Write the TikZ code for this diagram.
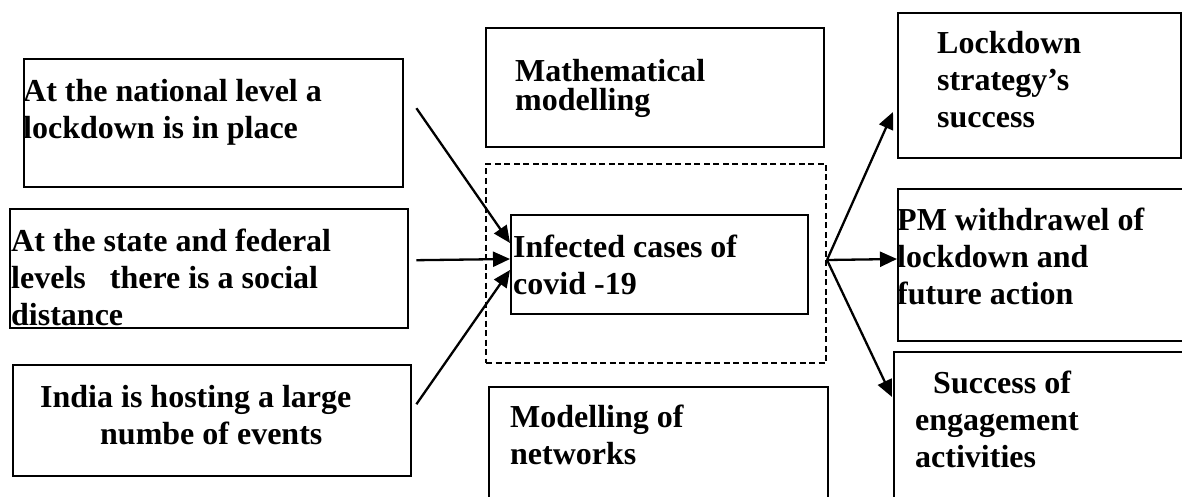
\documentclass[tikz,border=0pt]{standalone}
\usepackage{fontspec}
\setmainfont{Liberation Serif}
\usetikzlibrary{arrows.meta}
\tikzset{
  box/.style={draw, line width=2.4pt, inner sep=0pt, anchor=north west},
  dbox/.style={box, dash pattern=on 6pt off 3.5pt, line width=2pt},
  txt/.style={anchor=base west, inner sep=0pt, font=\fontsize{32}{37}\selectfont\bfseries},
  tighttxt/.style={txt, font=\fontsize{32}{28.5}\selectfont\bfseries},
  arr/.style={line width=2.3pt, -{Triangle[length=17pt,width=15pt]}},
}
\newcommand\mylines[1]{\parbox[t]{330pt}{\raggedright #1}}
\begin{document}
\begin{tikzpicture}[x=1pt,y=-1pt]
\useasboundingbox (0,0) rectangle (1182,497);
\clip (0,0) rectangle (1182,497);
% boxes
\node[box, minimum width=379pt, minimum height=128pt] (b1) at (23,58) {};
\node[box, minimum width=398pt, minimum height=119pt] (b2) at (9,208) {};
\node[box, minimum width=398pt, minimum height=111pt] (b3) at (12,364) {};
\node[box, minimum width=338pt, minimum height=119pt] (math) at (485,27) {};
\node[dbox, minimum width=340pt, minimum height=199pt] (dash) at (485,163) {};
\node[box, minimum width=297pt, minimum height=99pt] (inf) at (510,214) {};
\node[box, minimum width=339pt, minimum height=150pt] (net) at (488,386) {};
\node[box, minimum width=283pt, minimum height=145pt] (lock) at (897,12) {};
\node[box, minimum width=330pt, minimum height=152pt] (pm) at (897,188) {};
\node[box, minimum width=330pt, minimum height=170pt] (succ) at (893,351) {};
% texts
\node[txt] (t1) at (23,102) {\mylines{At the national level a\\lockdown is in place}};
\node[txt] (t2) at (11,251) {\mylines{At the state and federal\\levels\ \ \ there is a social\\distance}};
\node[txt] (t3) at (40,407) {\mylines{India is hosting a large\\\hspace*{60pt}numbe of events}};
\node[tighttxt] (tm) at (515,82) {\mylines{Mathematical\\modelling}};
\node[txt] (ti) at (513,257) {\mylines{Infected cases of\\covid -19}};
\node[txt] (tn) at (510,427) {\mylines{Modelling of\\networks}};
\node[txt] (tl) at (937,54) {\mylines{Lockdown\\strategy's\\success}};
\node[txt] (tp) at (897,230) {\mylines{PM withdrawel of\\lockdown and\\future action}};
\node[txt] (ts) at (915,393) {\mylines{\hspace*{18pt}Success of\\engagement\\activities}};
% arrows into the centre
\draw[arr] ([shift={(12pt,15pt)}]b1.east) -- ([yshift=-29pt]inf.north west);
\draw[arr] ([shift={(7pt,8.5pt)}]b2.east) -- ([yshift=-45pt]inf.north west);
\draw[arr] ([shift={(4pt,16.5pt)}]b3.east) -- ([yshift=-56pt]inf.north west);
% arrows out
\coordinate (src) at ([yshift=3.5pt]dash.east);
\draw[arr] (src) -- ([shift={(-4pt,-100pt)}]lock.north west);
\draw[arr] (src) -- ([yshift=-71pt]pm.north west);
\draw[arr] (src) -- ([shift={(-1pt,-46pt)}]succ.north west);
\end{tikzpicture}
\end{document}
